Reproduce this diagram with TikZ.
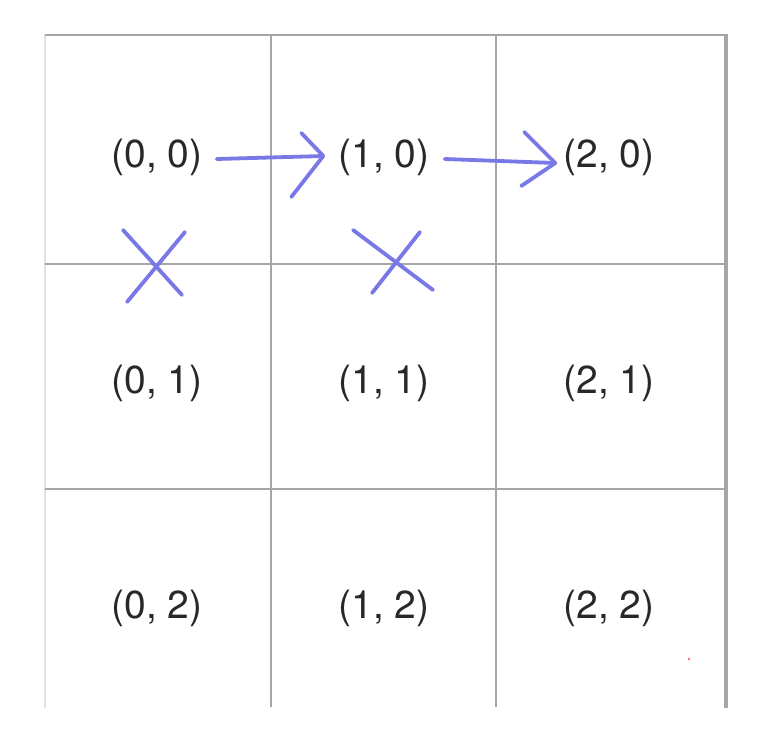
\documentclass[tikz,border=0pt]{standalone}
\usepackage{fontspec}
\setmainfont{TeX Gyre Heros}
\usetikzlibrary{arrows.meta}
\definecolor{gridgray}{HTML}{A6A6A6}
\definecolor{penblue}{HTML}{7878E6}
\definecolor{txt}{HTML}{282828}
\tikzset{
  gridline/.style={draw=gridgray, line width=2.6pt},
  cell/.style={inner sep=0pt, text=txt, font=\fontsize{39}{39}\selectfont},
  pen/.style={draw=penblue, line width=3.8pt, line cap=round, line join=round}
}
\begin{document}
\begin{tikzpicture}[x=1pt, y=-1pt]
\useasboundingbox (0,0) rectangle (782,744);
% grid
\draw[draw=gridgray!35, line width=1.5pt] (45,35) -- (45,708);
\draw[gridline] (45,35) -- (726,35);
\draw[gridline] (45,264) -- (726,264);
\draw[gridline] (45,489) -- (726,489);
\draw[gridline] (271,35) -- (271,707);
\draw[gridline] (496,35) -- (496,707);
\draw[draw=gridgray, line width=4pt] (726,34) -- (726,708);
% cells
\node[cell] (c00) at (157,157) {(0, 0)};
\node[cell] (c10) at (384,157) {(1, 0)};
\node[cell] (c20) at (609,157) {(2, 0)};
\node[cell] (c01) at (157,383) {(0, 1)};
\node[cell] (c11) at (384,383) {(1, 1)};
\node[cell] (c21) at (609,383) {(2, 1)};
\node[cell] (c02) at (157,608) {(0, 2)};
\node[cell] (c12) at (384,608) {(1, 2)};
\node[cell] (c22) at (609,608) {(2, 2)};
% arrow (0,0) -> (1,0), hand-drawn open head
\draw[pen] ([shift={(14,2)}]c00.east) -- ([shift={(-15,-1)}]c10.west) coordinate (t1);
\draw[pen] ([shift={(-22,-23)}]t1) -- (t1) -- ([shift={(-32,41)}]t1);
% arrow (1,0) -> (2,0)
\draw[pen] ([shift={(15,2)}]c10.east) -- ([shift={(-8,6)}]c20.west) coordinate (t2);
\draw[pen] ([shift={(-31,-31)}]t2) -- (t2) -- ([shift={(-34,23)}]t2);
% crosses
\draw[pen] (123,230) -- (182,295);
\draw[pen] (185,232) -- (127,302);
\draw[pen] (353,230) -- (433,290);
\draw[pen] (420,232) -- (372,293);
% stray dot
\fill[red!60] (689,659) circle (1.3pt);
\end{tikzpicture}
\end{document}
